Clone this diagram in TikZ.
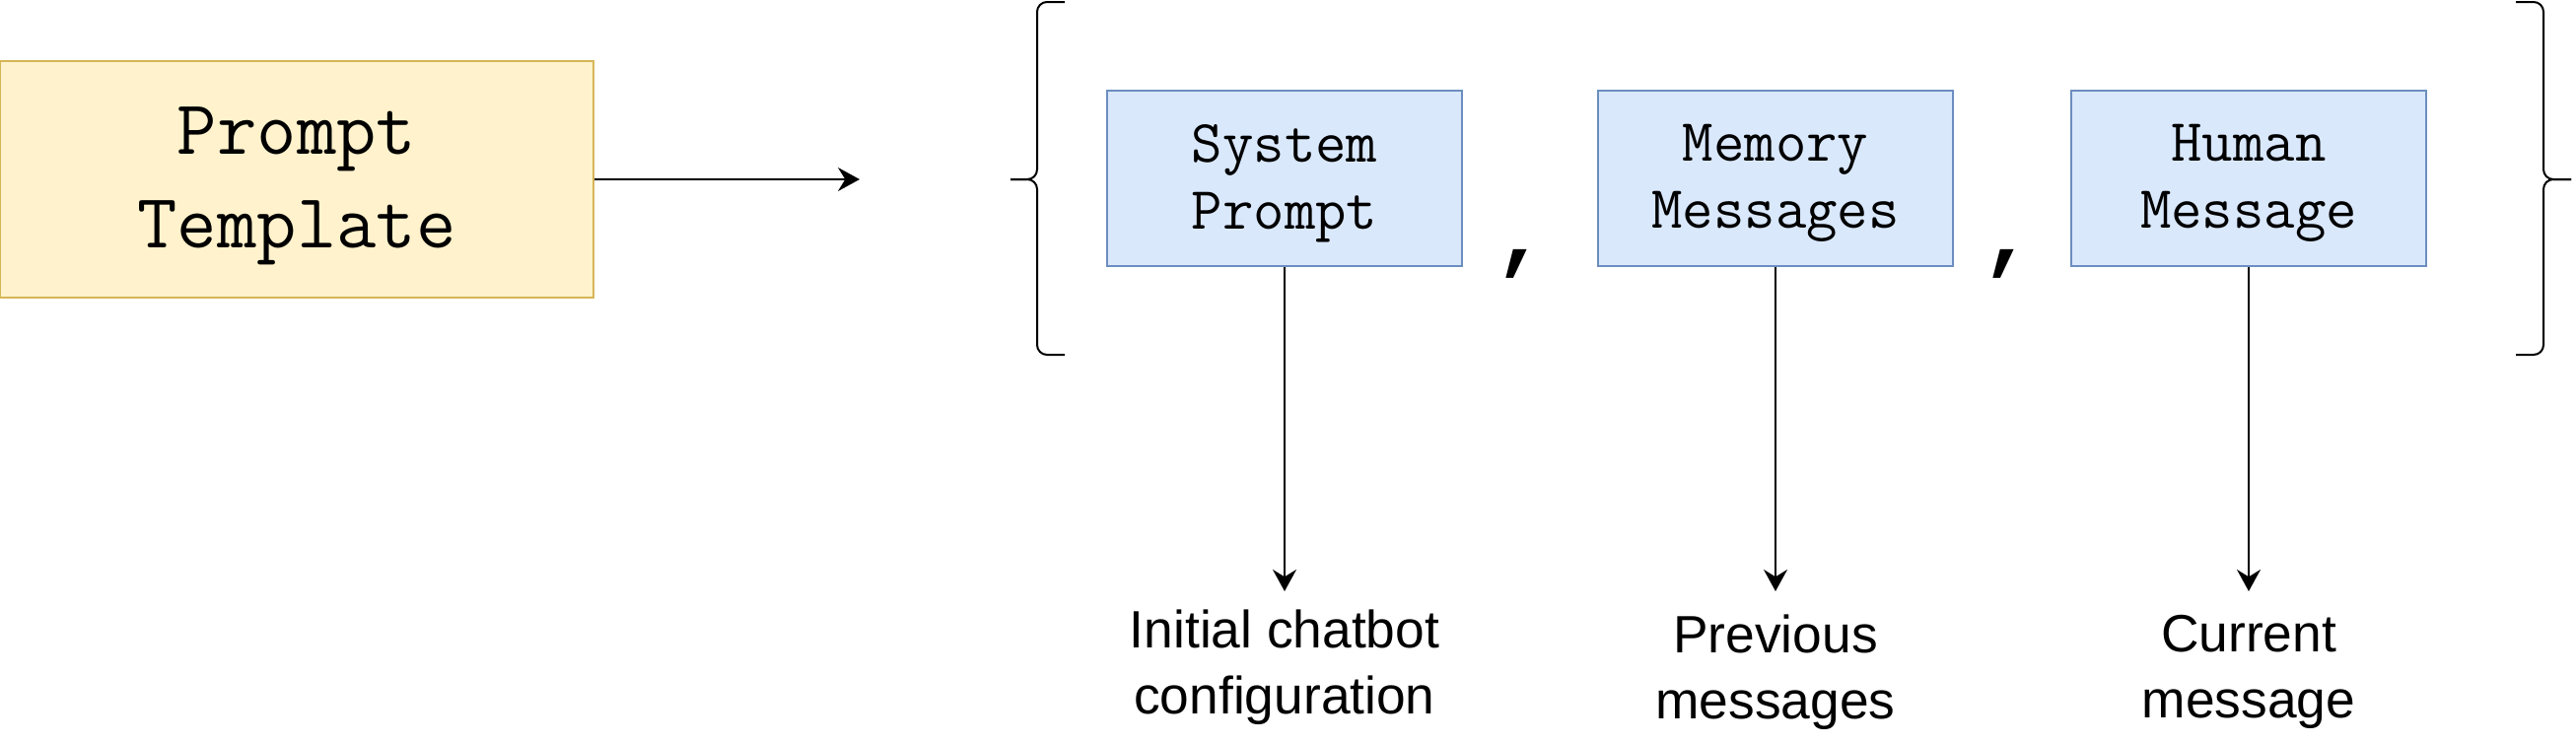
\documentclass[tikz,border=0pt]{standalone}
\usepackage{fontspec}
\setmainfont{Liberation Sans}
\newfontfamily\monofont{Liberation Mono}
\usetikzlibrary{arrows.meta}
\definecolor{ylwfill}{HTML}{FFF2CC}
\definecolor{ylwline}{HTML}{D6B656}
\definecolor{bluefill}{HTML}{DAE8FC}
\definecolor{blueline}{HTML}{6C8EBF}
\tikzset{
  ptbox/.style={draw=ylwline, fill=ylwfill, line width=0.7pt, minimum width=180.6pt, minimum height=72pt, inner sep=0pt},
  pttext/.style={inner sep=0pt, align=center, yshift=-2pt, font=\ttfamily\fontsize{23.5}{28.5}\selectfont},
  msgbox/.style={draw=blueline, fill=bluefill, line width=0.6pt, minimum width=108pt, minimum height=53.4pt, inner sep=0pt},
  msgtext/.style={inner sep=0pt, align=center, yshift=-1.5pt, font=\ttfamily\fontsize{18.3}{20.4}\selectfont},
  lbl/.style={inner sep=0pt, align=center, font=\fontsize{16}{20.1}\selectfont},
  arr/.style={line width=0.6pt, -{Stealth[length=6.6pt, width=7.2pt, inset=2.2pt]}},
  brace/.style={line width=0.6pt, rounded corners=3pt},
  commatxt/.style={inner sep=0pt, anchor=base, font=\monofont\bfseries\fontsize{27}{27}\selectfont}
}
\begin{document}
\begin{tikzpicture}[x=0.3pt, y=-0.3pt]
\useasboundingbox (0,0) rectangle (2613,753);
% prompt template
\node[ptbox, label={[pttext]center:Prompt\\Template}] (pt) at (301,182) {};
\coordinate (ptend) at (872,182);
\draw[arr] (pt.east) -- (ptend);
% braces
\draw[brace] (1080,2) -- (1052,2) -- (1052,182) -- (1025,182);
\draw[brace] (1025,182) -- (1052,182) -- (1052,360) -- (1080,360);
\draw[brace] (2552,2) -- (2580,2) -- (2580,182) -- (2608,182);
\draw[brace] (2608,182) -- (2580,182) -- (2580,360) -- (2552,360);
% message boxes
\node[msgbox, label={[msgtext]center:System\\Prompt}] (sys) at (1303,181) {};
\node[msgbox, label={[msgtext]center:Memory\\Messages}] (mem) at (1801,181) {};
\node[msgbox, label={[msgtext]center:Human\\Message}] (hum) at (2281,181) {};
% commas
\node[commatxt] (c1) at (1543,266) {,};
\node[commatxt] (c2) at (2037,266) {,};
% labels
\node[lbl] (l1) at (1303,677) {Initial chatbot\\configuration};
\node[lbl] (l2) at (1801,682) {Previous\\messages};
\node[lbl] (l3) at (2281,682) {Current\\message};
\coordinate (e1) at (1303,600);
\coordinate (e2) at (1801,600);
\coordinate (e3) at (2281,600);
\draw[arr] (sys.south) -- (e1);
\draw[arr] (mem.south) -- (e2);
\draw[arr] (hum.south) -- (e3);
\end{tikzpicture}
\end{document}
